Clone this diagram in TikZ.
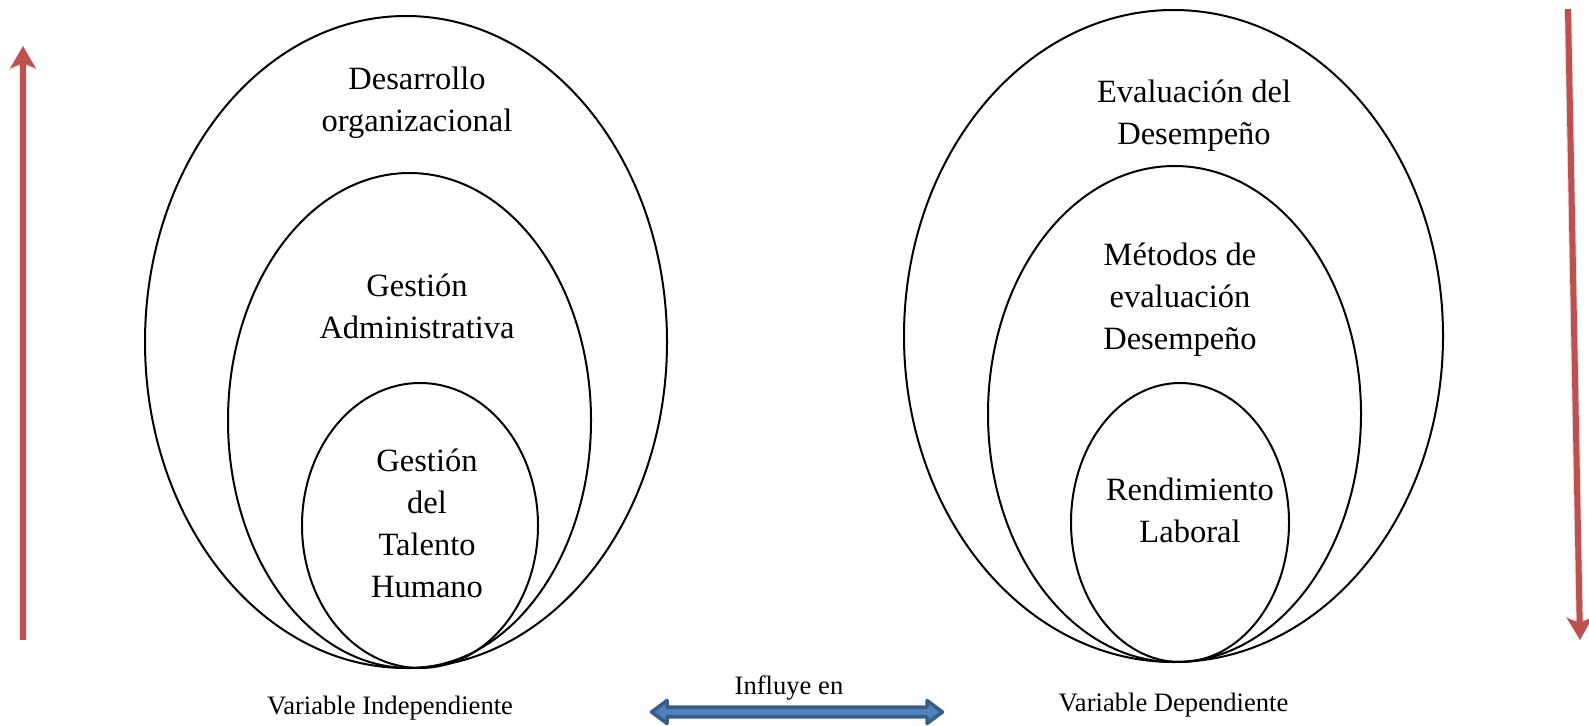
\documentclass[tikz,border=0pt]{standalone}
\usepackage{fontspec}
\setmainfont{Liberation Serif}
\usetikzlibrary{arrows.meta}
\definecolor{trendred}{RGB}{192,80,77}
\definecolor{linkfill}{RGB}{79,129,189}
\definecolor{linkedge}{RGB}{56,93,138}
\begin{document}
\begin{tikzpicture}[x=1pt, y=-1pt,
  ring/.style={draw=black, line width=2pt},
  % multi-line labels are placed by the baseline of their last line
  biglabel/.style={font=\fontsize{32.5}{42}\selectfont, align=center, anchor=base, inner sep=0pt},
  smalllabel/.style={font=\fontsize{26.6}{32}\selectfont, anchor=base, inner sep=0pt},
  trend/.style={draw=trendred, line width=6pt, -{Stealth[length=22pt,width=25pt,inset=5pt]}},
  trendshadow/.style={draw=black!70, opacity=.15, line width=8pt,
    -{Stealth[length=24pt,width=28pt,inset=5pt]}, xshift=1.5pt, yshift=-1.5pt},
  linkarrow/.style={draw=linkedge, fill=linkfill, line width=3.5pt, line join=round}
]
\useasboundingbox (0,0) rectangle (1589,725);

% independent variable: nested rings
\draw[ring] (406,342) ellipse [x radius=261pt, y radius=326pt];
\draw[ring] (409.5,420.5) ellipse [x radius=181.5pt, y radius=247.5pt];
\draw[ring] (420,525.5) ellipse [x radius=118pt, y radius=142.5pt];

% dependent variable: nested rings
\draw[ring] (1173.5,336) ellipse [x radius=269.5pt, y radius=326pt];
\draw[ring] (1174.5,414) ellipse [x radius=186.5pt, y radius=248pt];
\draw[ring] (1180,522.5) ellipse [x radius=109pt, y radius=139.5pt];

% ring labels
\node[biglabel] (desarrollo) at (417,131) {Desarrollo\\organizacional};
\node[biglabel] (gestadm) at (417,338) {Gesti\'on\\Administrativa};
\node[biglabel] (talento) at (427,597) {Gesti\'on\\del\\Talento\\Humano};
\node[biglabel] (evaluacion) at (1194,144) {Evaluaci\'on del\\Desempe\~no};
\node[biglabel] (metodos) at (1180,349) {M\'etodos de\\evaluaci\'on\\Desempe\~no};
\node[biglabel] (rendimiento) at (1190,542) {Rendimiento\\Laboral};

% captions
\node[smalllabel] (vind) at (390,714) {Variable Independiente};
\node[smalllabel] (vdep) at (1173.5,711) {Variable Dependiente};
\node[smalllabel] (influye) at (789,694) {Influye en};

% two-headed link between the variables
\coordinate (linkL) at (651.5,712);
\coordinate (linkR) at (942.5,712);
\draw[linkarrow] (linkL) -- (667,700.5) -- (667,707.2) -- (927,707.2) -- (927,700.5)
  -- (linkR) -- (927,723.5) -- (927,716.8) -- (667,716.8) -- (667,723.5) -- cycle;

% side trend arrows
\coordinate (upTail) at (23,640);
\coordinate (upHead) at (23,46);
\coordinate (downTail) at (1568,9);
\coordinate (downHead) at (1580,640);
\draw[trendshadow] (upTail) -- (upHead);
\draw[trendshadow] (downTail) -- (downHead);
\draw[trend] (upTail) -- (upHead);
\draw[trend] (downTail) -- (downHead);
\end{tikzpicture}
\end{document}
